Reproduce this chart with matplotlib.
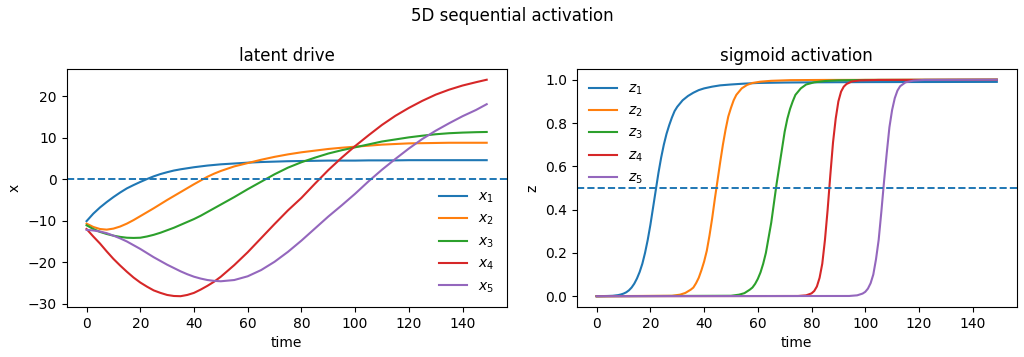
import matplotlib
matplotlib.use("Agg")
import matplotlib.pyplot as plt

# latent drive: every 2.5 steps up to t=50, then every 5 (last point t=149)
t_x = [0, 2.5, 5, 7.5, 10, 12.5, 15, 17.5, 20, 22.5, 25, 27.5, 30, 32.5,
       35, 37.5, 40, 42.5, 45, 47.5, 50, 55, 60, 65, 70, 75, 80, 85, 90,
       95, 100, 105, 110, 115, 120, 125, 130, 135, 140, 145, 149]
x1 = [-10.1, -8.3, -6.8, -5.5, -4.3, -3.2, -2.2, -1.4, -0.65, 0.05, 0.7,
      1.25, 1.7, 2.1, 2.4, 2.65, 2.9, 3.1, 3.3, 3.45, 3.6, 3.8, 4.0, 4.15,
      4.25, 4.35, 4.4, 4.45, 4.5, 4.5, 4.5, 4.55, 4.55, 4.55, 4.6, 4.6, 4.6,
      4.6, 4.6, 4.6, 4.6]
x2 = [-10.7, -11.5, -12.0, -12.15, -11.9, -11.4, -10.7, -9.85, -8.9, -7.95,
      -7.0, -6.0, -5.0, -4.05, -3.1, -2.15, -1.2, -0.3, 0.6, 1.35, 2.0, 3.1,
      3.9, 4.7, 5.4, 6.0, 6.5, 6.9, 7.3, 7.6, 7.85, 8.1, 8.35, 8.5, 8.65,
      8.7, 8.75, 8.8, 8.8, 8.8, 8.8]
x3 = [-11.1, -12.0, -12.7, -13.2, -13.6, -13.9, -14.1, -14.15, -14.1, -13.8,
      -13.4, -12.9, -12.3, -11.7, -11.0, -10.3, -9.6, -8.8, -7.9, -7.0, -6.1,
      -4.3, -2.4, -0.6, 1.2, 2.8, 4.1, 5.2, 6.2, 7.0, 7.7, 8.4, 9.1, 9.6,
      10.1, 10.5, 10.85, 11.1, 11.25, 11.35, 11.4]
x4 = [-12.0, -13.8, -15.5, -17.4, -19.2, -20.8, -22.3, -23.7, -24.9, -25.9,
      -26.8, -27.4, -27.9, -28.15, -28.2, -27.9, -27.4, -26.6, -25.7, -24.7,
      -23.5, -20.7, -17.6, -14.2, -10.8, -7.5, -4.5, -1.1, 2.2, 5.2, 8.0,
      10.6, 13.1, 15.3, 17.2, 18.9, 20.4, 21.6, 22.6, 23.4, 24.0]
x5 = [-12.2, -12.35, -12.6, -13.0, -13.6, -14.25, -15.0, -15.9, -16.8, -17.8,
      -18.8, -19.7, -20.6, -21.4, -22.2, -22.9, -23.5, -23.95, -24.3, -24.5,
      -24.6, -24.3, -23.4, -21.9, -19.9, -17.5, -14.8, -11.9, -9.0, -6.3,
      -3.5, -0.5, 2.3, 4.9, 7.4, 9.7, 11.7, 13.5, 15.2, 16.7, 18.1]

# sigmoid activation, read densely around each switch
t_z1 = [0, 4, 6, 8, 9, 10, 11, 12, 13, 14, 15, 16, 17, 18, 19, 20, 21, 22,
        23, 24, 25, 26, 27, 28, 29, 30, 32, 34, 36, 38, 40, 43, 46, 50, 55,
        60, 70, 80, 100, 149]
z1 = [0, 0.001, 0.002, 0.005, 0.008, 0.012, 0.018, 0.027, 0.04, 0.058,
      0.082, 0.112, 0.15, 0.2, 0.26, 0.33, 0.41, 0.49, 0.57, 0.64, 0.70,
      0.75, 0.79, 0.825, 0.855, 0.875, 0.905, 0.925, 0.94, 0.952, 0.96,
      0.968, 0.974, 0.978, 0.982, 0.985, 0.987, 0.988, 0.989, 0.99]
t_z2 = [0, 28, 31, 33, 35, 36, 37, 38, 39, 40, 41, 42, 43, 44, 45, 46, 47,
        48, 49, 50, 51, 52, 54, 56, 58, 61, 65, 72, 85, 149]
z2 = [0, 0.002, 0.007, 0.015, 0.03, 0.04, 0.06, 0.085, 0.12, 0.16, 0.21,
      0.28, 0.36, 0.45, 0.535, 0.62, 0.7, 0.77, 0.83, 0.87, 0.905, 0.93,
      0.96, 0.976, 0.985, 0.991, 0.995, 0.998, 0.999, 1.0]
t_z3 = [0, 50, 53, 55, 57, 58, 59, 60, 61, 62, 63, 64, 65, 66, 67, 68, 69,
        70, 71, 72, 73, 74, 76, 78, 81, 85, 90, 100, 149]
z3 = [0, 0.002, 0.007, 0.014, 0.03, 0.04, 0.057, 0.08, 0.11, 0.15, 0.2,
      0.27, 0.34, 0.43, 0.52, 0.6, 0.68, 0.76, 0.82, 0.865, 0.9, 0.93, 0.96,
      0.978, 0.988, 0.994, 0.997, 0.999, 1.0]
t_z4 = [0, 75, 78, 80, 81, 82, 83, 84, 85, 86, 87, 88, 89, 90, 91, 92, 93,
        95, 98, 105, 149]
z4 = [0, 0.001, 0.004, 0.013, 0.024, 0.045, 0.085, 0.15, 0.26, 0.4, 0.56,
      0.71, 0.82, 0.9, 0.945, 0.968, 0.98, 0.992, 0.997, 0.999, 1.0]
t_z5 = [0, 94, 97, 99, 100, 101, 102, 103, 104, 105, 106, 107, 108, 109,
        110, 111, 112, 113, 115, 118, 122, 149]
z5 = [0, 0.001, 0.004, 0.012, 0.02, 0.035, 0.06, 0.1, 0.17, 0.26, 0.39,
      0.53, 0.66, 0.78, 0.86, 0.915, 0.95, 0.97, 0.988, 0.996, 0.999, 1.0]

fig, (ax1, ax2) = plt.subplots(1, 2, figsize=(10.24, 3.57), dpi=100)

for i, x in enumerate([x1, x2, x3, x4, x5]):
    ax1.plot(t_x, x, label=f"$x_{i + 1}$")
ax1.axhline(0, linestyle="--", linewidth=1.4)
ax1.set_title("latent drive")
ax1.set_xlabel("time")
ax1.set_ylabel("x")
ax1.legend(loc="lower right", frameon=False)

z_series = [(t_z1, z1), (t_z2, z2), (t_z3, z3), (t_z4, z4), (t_z5, z5)]
for i, (t, z) in enumerate(z_series):
    ax2.plot(t, z, label=f"$z_{i + 1}$")
ax2.axhline(0.5, linestyle="--", linewidth=1.4)
ax2.set_title("sigmoid activation")
ax2.set_xlabel("time")
ax2.set_ylabel("z")
ax2.legend(loc="upper left", frameon=False)

fig.suptitle("5D sequential activation")
plt.subplots_adjust(left=0.065, right=0.993, top=0.807, bottom=0.14,
                    wspace=0.159)
plt.savefig("out.png")
